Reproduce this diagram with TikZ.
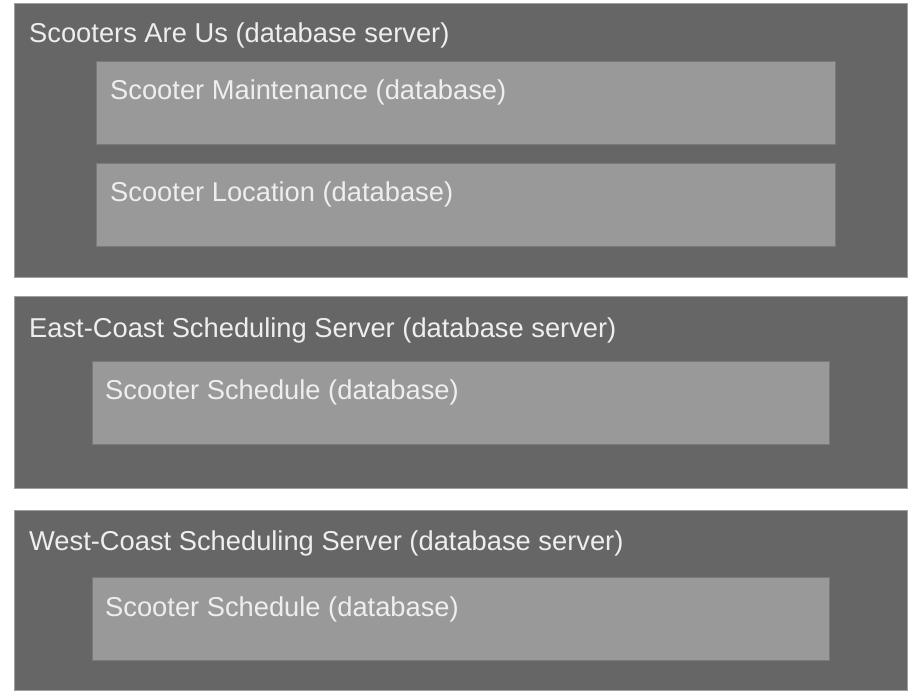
\documentclass[tikz,border=0pt]{standalone}
\usepackage{fontspec}
\setmainfont{Liberation Sans}
\usetikzlibrary{calc}
\definecolor{srvgray}{HTML}{666666}
\definecolor{dbgray}{HTML}{999999}
\definecolor{srvline}{HTML}{A0A0A0}
\definecolor{dbline}{HTML}{7A7A7A}
\definecolor{txtgray}{HTML}{EEEEEE}

\begin{document}
\begin{tikzpicture}[x=1pt,y=-1pt]
\tikzstyle{server}=[draw=srvline,fill=srvgray,line width=0.8pt,anchor=north west,inner sep=0pt,minimum width=893pt]
\tikzstyle{db}=[draw=dbline,fill=dbgray,line width=0.8pt,anchor=north west,inner sep=0pt,minimum height=83pt]
\tikzstyle{lbl}=[text=txtgray,font=\fontsize{27.3}{31}\selectfont,anchor=base west,inner sep=0pt]
\useasboundingbox (0,0) rectangle (908,696);
% servers
\node[server,minimum height=274pt] (sau) at (14,3) {};
\node[server,minimum height=192pt] (east) at (14,296) {};
\node[server,minimum height=180pt] (west) at (14,510) {};
% databases
\node[db,minimum width=739pt] (maint) at (96,61) {};
\node[db,minimum width=739pt] (loc) at (96,163) {};
\node[db,minimum width=737pt] (esched) at (92,361) {};
\node[db,minimum width=737pt] (wsched) at (92,577) {};
% labels
\node[lbl] (saulbl) at ($(sau.north west)+(15,39)$) {Scooters Are Us (database server)};
\node[lbl] (eastlbl) at ($(east.north west)+(15,41)$) {East-Coast Scheduling Server (database server)};
\node[lbl] (westlbl) at ($(west.north west)+(15,40)$) {West-Coast Scheduling Server (database server)};
\node[lbl] (maintlbl) at ($(maint.north west)+(14,38)$) {Scooter Maintenance (database)};
\node[lbl] (loclbl) at ($(loc.north west)+(14,38)$) {Scooter Location (database)};
\node[lbl] (eschedlbl) at ($(esched.north west)+(13,38)$) {Scooter Schedule (database)};
\node[lbl] (wschedlbl) at ($(wsched.north west)+(13,39)$) {Scooter Schedule (database)};
\end{tikzpicture}
\end{document}
